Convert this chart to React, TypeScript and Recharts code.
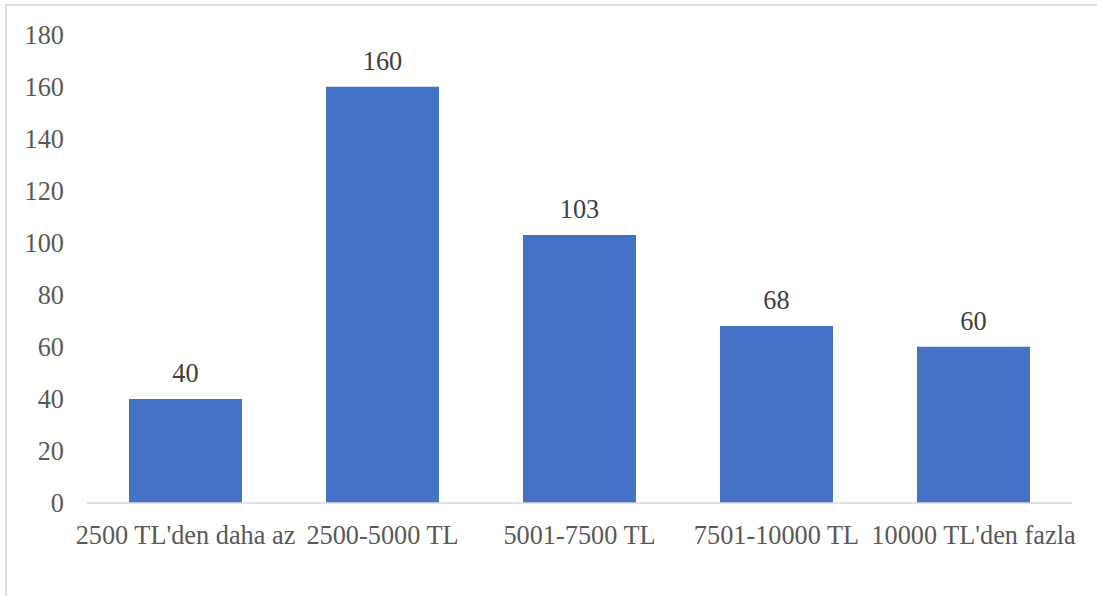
import { Bar, BarChart, LabelList, Text, XAxis, YAxis } from "recharts"

const incomeBands = [
  "2500 TL'den daha az",
  "2500-5000 TL",
  "5001-7500 TL",
  "7501-10000 TL",
  "10000 TL'den fazla",
]
const respondents = [40, 160, 103, 68, 60]
const yTicks = [0, 20, 40, 60, 80, 100, 120, 140, 160, 180]

const rows = incomeBands.map((band, i) => ({ band, count: respondents[i] }))

const FONT_SIZE = 26.3

// category labels wrap inside their band
const BandTick = (props: any) => {
  const { x, y, payload } = props
  return (
    <Text
      x={x}
      y={y}
      width={197}
      textAnchor="middle"
      verticalAnchor="start"
      lineHeight={29}
      style={{ fontFamily: "Times New Roman", fontSize: FONT_SIZE }}
      fill="#595959"
    >
      {payload.value}
    </Text>
  )
}

export default function App() {
  return (
    <div style={{ position: "absolute", left: 0, top: 0, width: 1097, height: 596 }}>
      <p
        style={{
          position: "absolute",
          left: 5,
          top: 4,
          width: 1092,
          height: 592,
          margin: 0,
          fontFamily: "Liberation Serif",
          fontSize: 20,
          borderTop: "2px solid #dedede",
          borderLeft: "2px solid #dedede",
        }}
      >
        {"\u200b"}
      </p>
      <BarChart
        width={1097}
        height={596}
        data={rows}
        margin={{ top: 34.6, right: 25, bottom: 0, left: 0 }}
      >
        <XAxis
          dataKey="band"
          height={93}
          tickLine={false}
          tickSize={0}
          tickMargin={22}
          interval={0}
          axisLine={{ stroke: "#d9d9d9", strokeWidth: 1.5 }}
          tick={<BandTick />}
        />
        <YAxis
          width={87}
          domain={[0, 180]}
          ticks={yTicks}
          axisLine={false}
          tickLine={false}
          tick={{ fill: "#595959", fontSize: FONT_SIZE, fontFamily: "Times New Roman", dx: -15 }}
        />
        <Bar dataKey="count" fill="#4472C4" barSize={113} isAnimationActive={false}>
          <LabelList
            dataKey="count"
            position="top"
            offset={17}
            fill="#404040"
            fontSize={FONT_SIZE}
            fontFamily="Times New Roman"
          />
        </Bar>
      </BarChart>
    </div>
  )
}
